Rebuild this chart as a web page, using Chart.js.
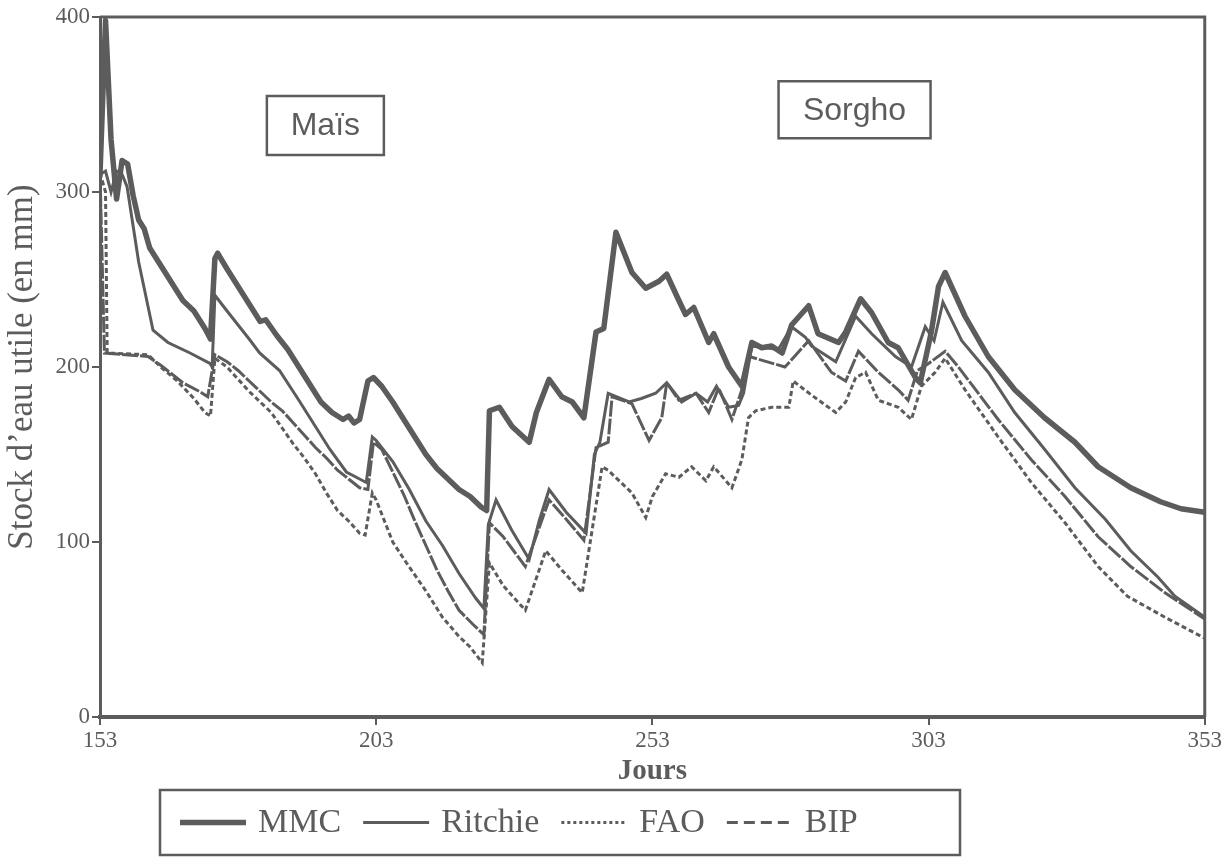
<!DOCTYPE html>
<html>
<head>
<meta charset="utf-8">
<script src="https://cdn.jsdelivr.net/npm/chart.js@4.4.0/dist/chart.umd.min.js"></script>
<style>
  html, body { margin: 0; padding: 0; background: #fff; }
</style>
</head>
<body>
<canvas id="myChart" width="1224" height="857"></canvas>
<script>
// series names and tick values
var seriesNames = ['MMC', 'Ritchie', 'FAO', 'BIP'];
var xTickValues = [153, 203, 253, 303, 353];
var yTickValues = [0, 100, 200, 300, 400];

// MMC (thick line)
var mmcDays = [153, 154, 155, 156, 157, 158, 159, 160, 161, 162, 164, 166, 168, 170, 172, 173, 173.8, 174.3, 176, 178, 180, 182, 183, 185, 187, 189, 191, 193, 195, 197, 198, 199, 200, 201.5, 202.5, 204, 206, 208, 210, 212, 214, 216, 218, 220, 222, 223, 223.5, 225.3, 227.6, 230.7, 232, 234.3, 236.6, 238.5, 240.6, 242.8, 244.2, 246.4, 249.3, 251.8, 254.2, 255.6, 257.8, 259, 260.5, 263.2, 264.1, 266.8, 269.2, 271, 272.8, 274.6, 276.5, 278.2, 281.3, 283, 286.7, 288, 290.7, 292.7, 295.7, 297.5, 300.6, 301.5, 303.5, 304.8, 306, 309.6, 313.8, 318.6, 324, 329.5, 333.7, 339.6, 345, 348.7, 353];
var mmcValues = [310, 398, 330, 296, 318, 316, 298, 284, 279, 268, 258, 248, 238, 232, 222, 216, 262, 265, 256, 246, 236, 226, 227, 218, 210, 200, 190, 180, 174, 170, 172, 168, 170, 192, 194, 189, 180, 170, 160, 150, 142, 136, 130, 126, 120, 118, 175, 177, 166, 157, 174, 193, 183, 180, 171, 220, 222, 277, 254, 245, 249, 253, 238, 230, 234, 214, 219, 200, 189, 214, 211, 212, 208, 224, 235, 219, 214, 220, 239, 231, 214, 211, 194, 191, 220, 246, 254, 229, 206, 187, 171, 157, 143, 131, 123, 119, 117];

// Ritchie (thin solid)
var ritchieDays = [153, 154, 155, 156, 157, 157.9, 160, 162.6, 165.3, 169.3, 172.9, 173.3, 173.8, 176, 178, 180, 181.9, 185.5, 189, 191, 194.6, 197.6, 199.4, 201.2, 202.3, 203, 206, 209, 212, 215, 218, 221, 222.5, 223.3, 224.7, 227.5, 230.7, 232.5, 234.3, 237.4, 241, 242.5, 243.5, 245, 248.8, 251, 253.6, 255.6, 258.3, 260.9, 263, 264.6, 266.8, 268.6, 269.5, 271, 275.8, 278.2, 280.7, 281.8, 286.2, 289.8, 292.7, 297, 299.9, 302.4, 304, 305.6, 309, 313.8, 318.6, 324, 329.5, 335, 339.6, 344.5, 347.6, 353];
var ritchieValues = [310, 312, 300, 312, 310, 303, 260, 221, 214, 208, 202, 200, 241, 232, 224, 216, 208, 198, 181, 171, 153, 140, 137, 134, 160, 158, 146, 130, 112, 98, 82, 68, 62, 110, 124, 107, 90, 112, 130, 117, 105, 150, 157, 185, 180, 182, 185, 191, 180, 185, 180, 189, 177, 178, 185, 212, 210, 223, 217, 212, 203, 229, 219, 206, 200, 223, 215, 237, 215, 197, 174, 153, 131, 113, 95, 80, 69, 57];

// FAO (dotted)
var faoDays = [153, 154, 154.3, 161.7, 164, 167, 170, 172, 173, 173.8, 176, 178, 180, 182, 184, 186, 188, 190, 192, 194, 196, 198, 200, 201, 202.3, 203, 206, 208.5, 212, 215, 218, 220, 222.2, 223.5, 226, 230, 233.7, 236.6, 240.3, 242, 243.9, 245, 249.3, 251.8, 253, 255.4, 257.8, 260.1, 262.7, 264.1, 267.4, 269.2, 270.4, 271.7, 274.6, 277.7, 278.5, 281.8, 286.2, 288, 289.8, 291.6, 293.9, 297.5, 299.9, 301.7, 304.2, 306, 309.6, 315.6, 321.6, 327.7, 333.7, 339, 345.8, 353];
var faoValues = [311, 300, 208, 207, 200, 192, 182, 174, 172, 205, 200, 193, 186, 180, 174, 165, 156, 148, 139, 128, 118, 112, 105, 104, 128, 124, 100, 88, 72, 57, 46, 40, 31, 88, 75, 61, 95, 84, 71, 105, 143, 141, 128, 114, 126, 139, 137, 143, 135, 143, 131, 147, 171, 175, 177, 177, 192, 184, 174, 180, 194, 197, 181, 177, 170, 189, 197, 205, 187, 160, 134, 111, 86, 69, 57, 45];

// BIP (dashed)
var bipDays = [153, 153.8, 161.7, 164, 168, 171, 172.5, 173.8, 176, 178, 180, 182, 184, 186, 188, 190, 192, 194, 196, 198, 200, 201.5, 202.5, 204, 206, 208, 210, 212, 214, 216, 218, 220.5, 222.5, 223.5, 226, 230, 234.3, 237.4, 240.6, 242.8, 245, 245.7, 249.3, 252.4, 254.7, 255.6, 257.8, 260.9, 263.2, 265, 267.4, 269.2, 270.5, 277, 281.3, 285.4, 288, 290.3, 293.9, 297.5, 299.3, 301, 303, 306, 308.4, 315.6, 321.6, 327.7, 333.7, 339.6, 345.8, 353];
var bipValues = [311, 208, 206, 201, 191, 186, 183, 207, 203, 198, 192, 186, 180, 175, 168, 161, 154, 148, 141, 136, 131, 130, 157, 153, 140, 127, 112, 98, 84, 72, 61, 53, 47, 111, 103, 86, 124, 113, 101, 154, 157, 183, 179, 158, 171, 191, 181, 185, 174, 188, 170, 187, 206, 200, 215, 197, 192, 209, 197, 187, 181, 198, 202, 209, 200, 170, 147, 126, 103, 86, 71, 56];

var ink = '#5c5c5c';
// how the legend draws each series' line
var legendDashes = [[], [], [3, 3], [11, 6]];

function toPoints(days, values) {
    var pts = [];
    for (var i = 0; i < days.length; i++) {
        pts.push({x: days[i], y: values[i]});
    }
    return pts;
}

// crop labels placed in data units (day, mm)
var cropLabels = [
    {text: 'Maïs', day: 193.8, level: 338, w: 117, h: 59},
    {text: 'Sorgho', day: 289.6, level: 347, w: 152, h: 57}
];

var decorPlugin = {
    id: 'decor',
    afterDatasetsDraw: function(chart) {
        var a = chart.chartArea, c = chart.ctx;
        var xs = chart.scales.x, ys = chart.scales.y;
        c.save();
        // frame on top and right
        c.strokeStyle = ink;
        c.lineWidth = 3;
        c.beginPath();
        c.moveTo(a.left, a.top);
        c.lineTo(a.right, a.top);
        c.lineTo(a.right, a.bottom);
        c.stroke();

        // crop boxes
        c.font = '32px "Liberation Sans"';
        c.textAlign = 'center';
        c.textBaseline = 'middle';
        c.fillStyle = ink;
        c.lineWidth = 2.5;
        cropLabels.forEach(function(b) {
            var cx = xs.getPixelForValue(b.day), cy = ys.getPixelForValue(b.level);
            c.strokeRect(cx - b.w / 2, cy - b.h / 2, b.w, b.h);
            c.fillText(b.text, cx, cy + 1);
        });

        // legend in a box under the axis
        var left = 160, top = 790, width = 800, height = 65;
        c.lineWidth = 2.5;
        c.strokeRect(left, top, width, height);
        var y = top + height / 2;
        var x = left + 20;
        c.font = '34px "Liberation Serif"';
        c.textAlign = 'left';
        chart.data.datasets.forEach(function(ds, i) {
            c.lineWidth = ds.borderWidth;
            c.setLineDash(legendDashes[i]);
            c.beginPath();
            c.moveTo(x, y);
            c.lineTo(x + 66, y);
            c.stroke();
            c.setLineDash([]);
            c.fillText(ds.label, x + 78, y + 1);
            x += 78 + c.measureText(ds.label).width + 22;
        });
        c.restore();
    }
};

var ctx = document.getElementById('myChart').getContext('2d');
var chart = new Chart(ctx, {
    type: 'line',
    data: {
        datasets: [{
            label: seriesNames[0],
            data: toPoints(mmcDays, mmcValues),
            borderColor: ink,
            borderWidth: 5.5,
            borderJoinStyle: 'round',
            borderCapStyle: 'round'
        }, {
            label: seriesNames[1],
            data: toPoints(ritchieDays, ritchieValues),
            borderColor: ink,
            borderWidth: 3
        }, {
            label: seriesNames[2],
            data: toPoints(faoDays, faoValues),
            borderColor: ink,
            borderWidth: 3,
            borderDash: [5, 3]
        }, {
            label: seriesNames[3],
            data: toPoints(bipDays, bipValues),
            borderColor: ink,
            borderWidth: 3,
            borderDash: [16, 2]
        }]
    },
    options: {
        responsive: false,
        animation: false,
        layout: {padding: {left: 0, right: 17, top: 17, bottom: 68}},
        elements: {point: {radius: 0}, line: {tension: 0, fill: false}},
        plugins: {legend: {display: false}, tooltip: {enabled: false}},
        scales: {
            x: {
                type: 'linear',
                min: 153,
                max: 353,
                afterBuildTicks: function(scale) {
                    scale.ticks = xTickValues.map(function(v) { return {value: v}; });
                },
                afterFit: function(scale) { scale.height = 72; },
                grid: {drawOnChartArea: false, tickLength: 8, color: ink, lineWidth: 2},
                border: {color: ink, width: 4},
                ticks: {color: ink, font: {family: 'Liberation Serif', size: 23}, padding: 2, maxRotation: 0},
                title: {display: true, text: 'Jours', color: ink, font: {family: 'Liberation Serif', size: 29, weight: 'bold'}, padding: {top: 0, bottom: 0}}
            },
            y: {
                min: 0,
                max: 400,
                afterBuildTicks: function(scale) {
                    scale.ticks = yTickValues.map(function(v) { return {value: v}; });
                },
                afterFit: function(scale) { scale.width = 100; },
                grid: {drawOnChartArea: false, tickLength: 8, color: ink, lineWidth: 2},
                border: {color: ink, width: 3},
                ticks: {color: ink, font: {family: 'Liberation Serif', size: 23}, padding: 2},
                title: {display: true, text: "Stock d\u2019eau utile (en mm)", color: ink, font: {family: 'Liberation Serif', size: 35}, padding: {top: 2, bottom: 4}}
            }
        }
    },
    plugins: [decorPlugin]
});
</script>
</body>
</html>
